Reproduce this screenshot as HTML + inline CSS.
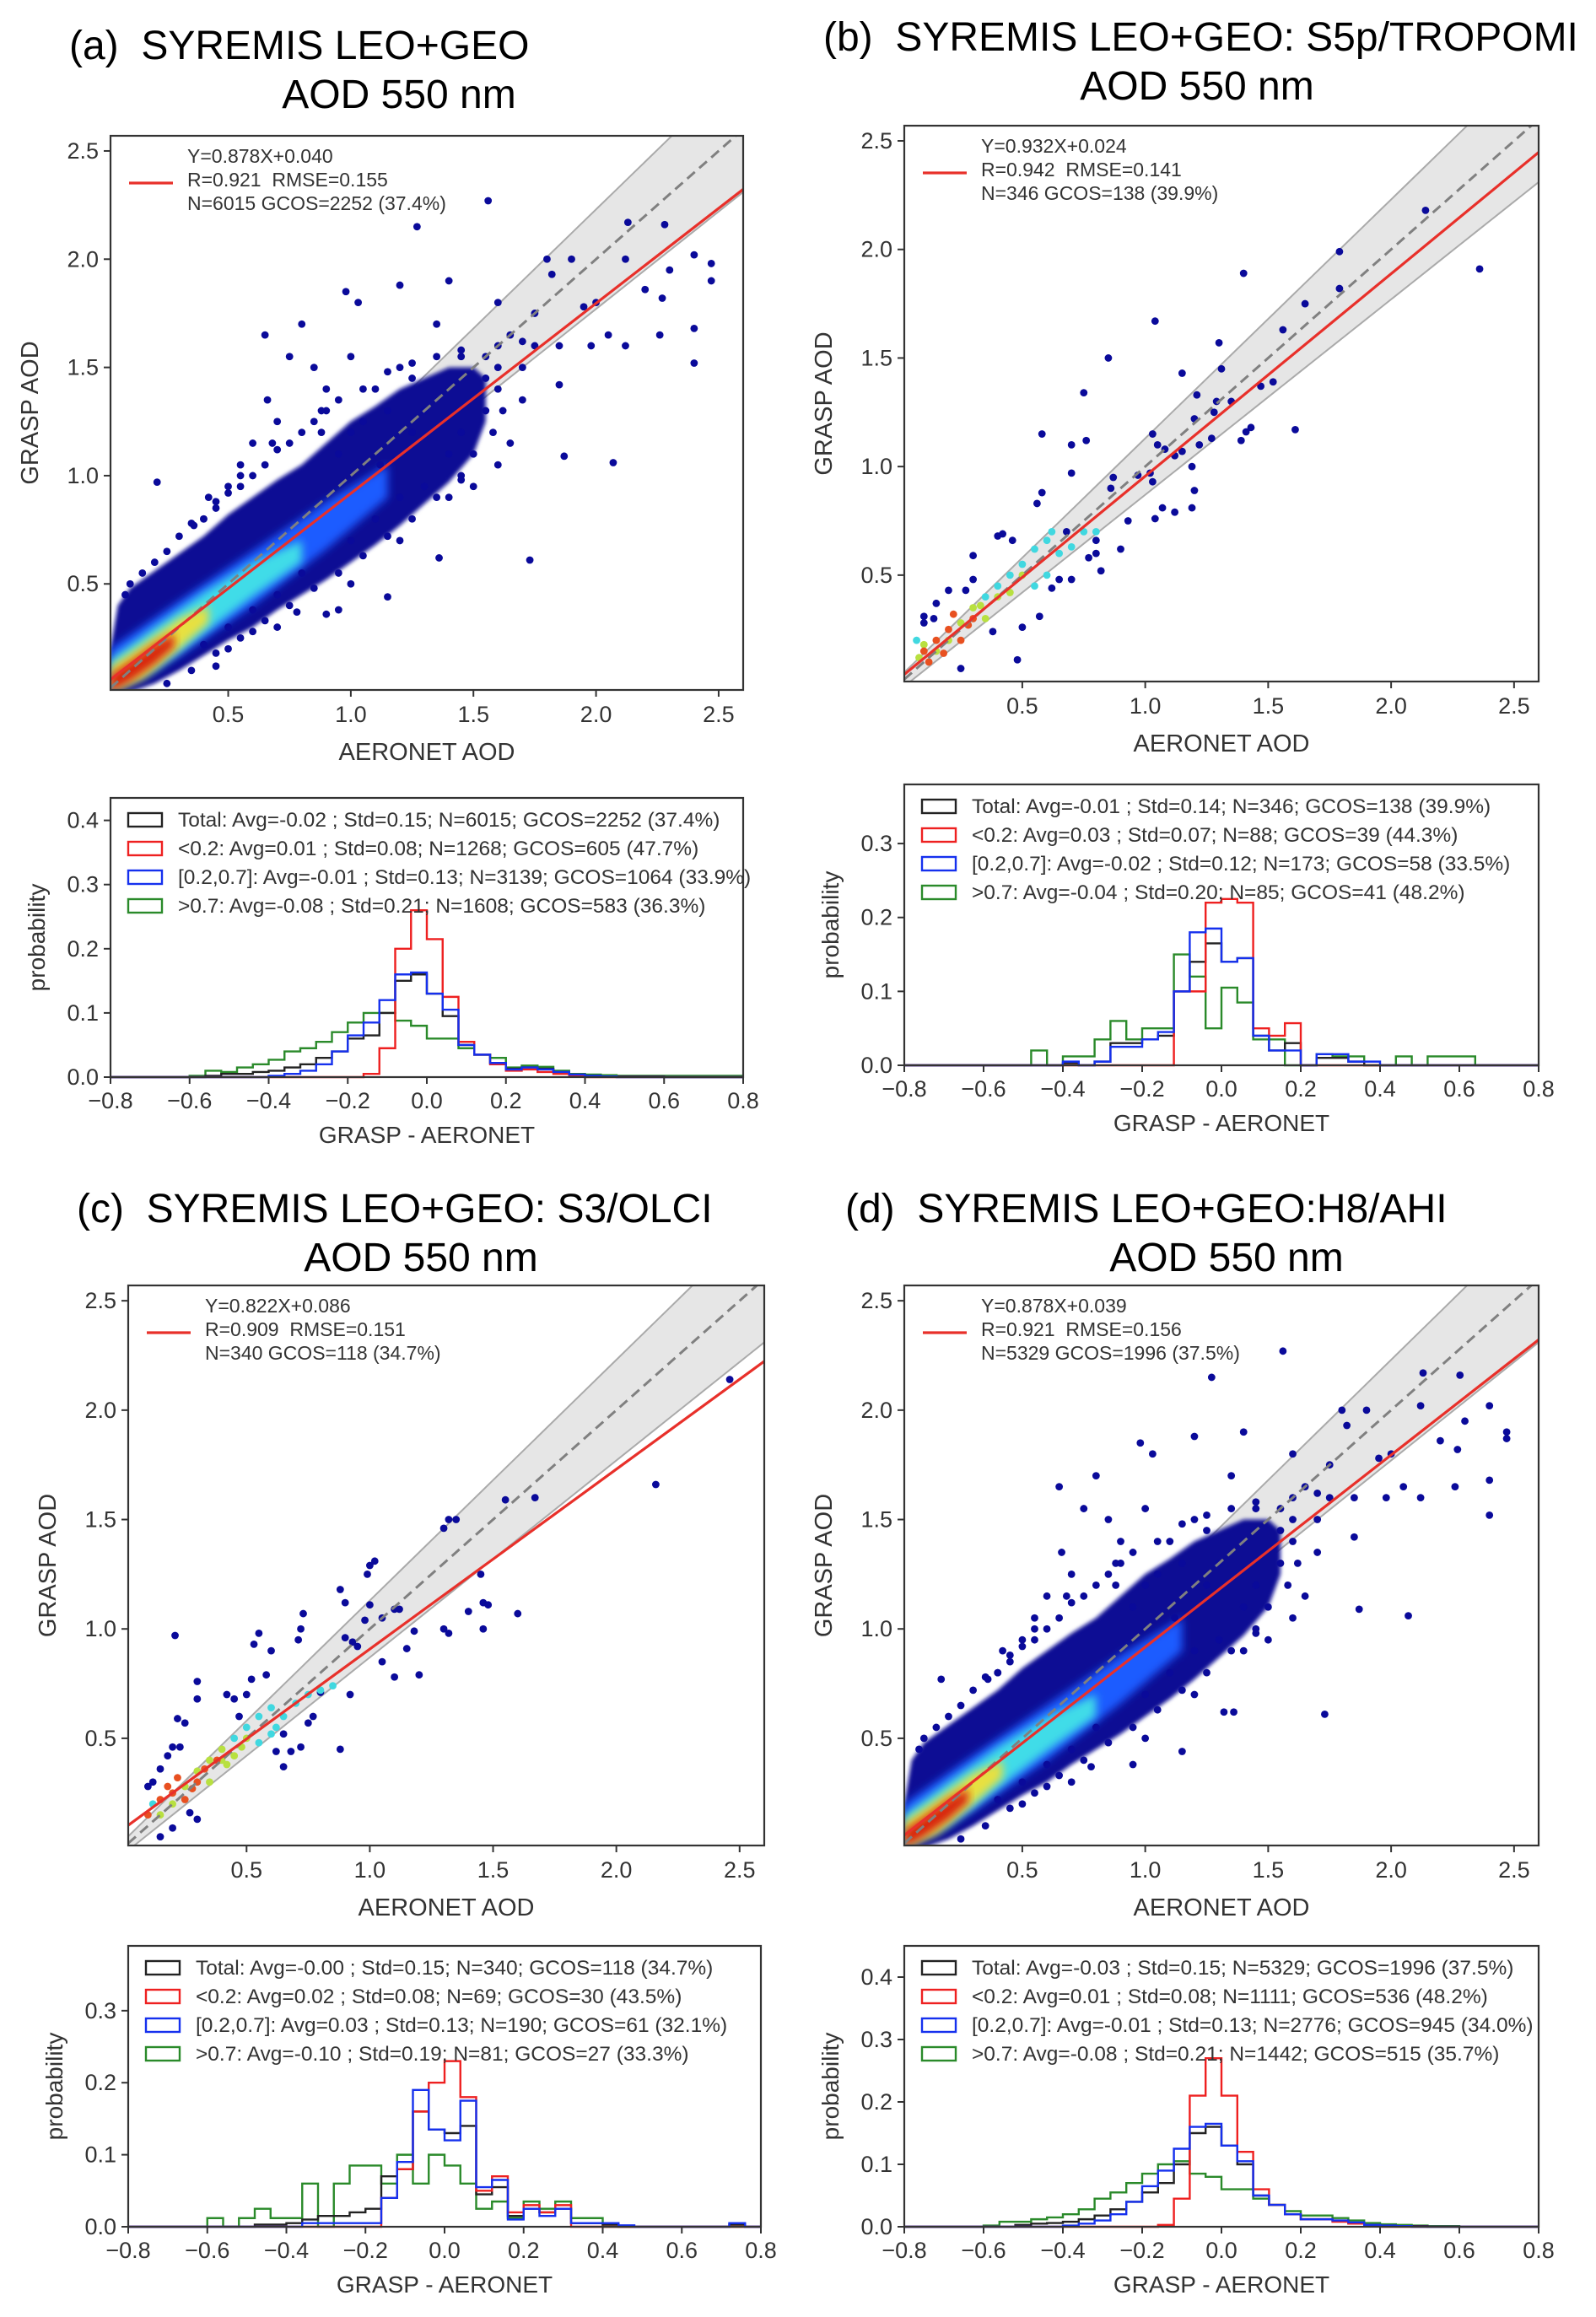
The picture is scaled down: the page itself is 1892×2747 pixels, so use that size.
<!DOCTYPE html>
<html><head><meta charset="utf-8"><style>
html,body{margin:0;padding:0;background:#fff;}
svg{display:block;font-family:"Liberation Sans",sans-serif;}
</style></head><body>
<svg id="fig" width="1892" height="2747" viewBox="0 0 1892 2747" xmlns="http://www.w3.org/2000/svg">
<defs>
<filter id="blur" x="-10%" y="-10%" width="120%" height="120%"><feGaussianBlur stdDeviation="5"/></filter>
<filter id="blur2" x="-10%" y="-10%" width="120%" height="120%"><feGaussianBlur stdDeviation="2.5"/></filter>
</defs>
<g id="root"></g>
</svg>
<script>
// ---------- shared ----------
const scatterXTicks=[0.5,1.0,1.5,2.0,2.5];
const scatterYTicks=[0.5,1.0,1.5,2.0,2.5];
const histXTicks=[-0.8,-0.6,-0.4,-0.2,0.0,0.2,0.4,0.6,0.8];
const binStart=-0.8, binWidth=0.04;
// density layers (x, lo, hi) for dense panels a & d
const densX1=[0.02,0.05,0.1,0.2,0.3,0.4,0.5,0.6,0.7,0.8,0.9,1.0,1.1,1.2,1.3,1.4,1.5,1.55];
const densLo1=[0,0,0,0.04,0.1,0.17,0.24,0.3,0.38,0.45,0.52,0.6,0.68,0.77,0.87,0.97,1.1,1.25];
const densHi1=[0.2,0.4,0.48,0.56,0.64,0.72,0.82,0.9,0.98,1.05,1.15,1.25,1.32,1.4,1.45,1.5,1.5,1.45];
const densX2=[0.02,0.3,0.6,0.9,1.15];
const densLo2=[0,0.17,0.4,0.66,0.9];
const densHi2=[0.2,0.42,0.65,0.88,1.05];
const densX3=[0.02,0.2,0.4,0.6,0.8];
const densLo3=[0,0.1,0.27,0.44,0.6];
const densHi3=[0.15,0.3,0.46,0.6,0.7];
const densX4=[0.02,0.15,0.3,0.42];
const densLo4=[0,0.06,0.2,0.32];
const densHi4=[0.12,0.22,0.34,0.4];
const densX5=[0.02,0.1,0.2,0.28];
const densLo5=[0,0.05,0.13,0.21];
const densHi5=[0.08,0.14,0.22,0.27];
const densColors=['#0d0d94','#1a5cff','#3fdce8','#e8e040','#d82410'];
// fringe points around dense clouds
const fringeX=[0.3,0.35,0.4,0.45,0.5,0.55,0.6,0.65,0.7,0.75,0.8,0.85,0.9,0.95,1.05,1.15,1.25,1.35,1.45,1.55,1.6,1.62,1.58,1.5,1.45,1.35,1.25,1.15,1.05,0.95,0.85,0.75,0.65,0.55,0.45,0.35,0.25,0.1,0.15,0.2,0.25,0.08,0.5,0.6,1.0,1.2,1.4,0.7,1.6,1.7,1.75,0.42,0.55,0.68,0.88];
const fringeY=[0.72,0.78,0.8,0.85,0.92,0.95,1.0,1.05,1.12,1.15,1.2,1.25,1.3,1.35,1.4,1.48,1.52,1.55,1.58,1.55,1.4,1.3,1.2,1.1,0.98,0.9,0.8,0.72,0.63,0.55,0.48,0.4,0.33,0.25,0.18,0.1,0.04,0.5,0.55,0.6,0.65,0.45,0.2,0.28,0.5,0.7,0.9,0.3,1.5,1.35,1.6,0.9,1.0,1.15,1.3];

// ---------- panel a ----------
const ptsAx=[2.47,2.47,2.4,2.4,2.4,2.3,2.28,2.27,2.26,2.13,2.12,2.12,2.05,2.07,1.87,1.73,1.36,1.27,1.56,1.4,1.2,0.98,1.03,0.8,0.65,0.36,0.21,1.15,0.9,0.95,0.78,1.8,1.82,1.9,1.95,1.85,1.85,1.6,2.2,2.0,1.98,1.75,1.7,1.65,1.6,1.55,1.45,1.5,1.45,1.3,1.25,1.1,1.0,0.9,0.85,0.75,0.7,0.6,0.55,0.5,0.45,0.4,1.0,1.1,1.2,0.8,0.7,0.6,0.5,0.4,0.45,1.3,1.4,1.55,1.6,1.65,1.7,1.0,1.05,1.15,1.2,0.95,1.35,1.45,1.25,1.12,0.88,0.66];
const ptsAy=[1.98,1.9,2.02,1.68,1.52,1.95,2.16,1.82,1.65,2.17,2.0,1.6,1.65,1.06,1.09,0.61,0.62,2.15,2.27,1.9,1.88,1.85,1.8,1.7,1.65,0.77,0.97,0.44,0.36,0.38,0.37,2.0,1.93,2.0,1.78,1.6,1.42,1.8,1.86,1.8,1.6,1.75,1.5,1.15,1.05,1.3,1.2,0.95,1.0,1.3,1.45,1.4,1.55,1.4,1.5,1.55,1.25,1.15,1.05,0.95,0.88,0.8,0.7,0.8,0.9,0.55,0.45,0.38,0.3,0.22,0.12,0.95,1.1,1.45,1.6,1.65,1.62,1.2,1.25,1.3,1.5,1.1,1.7,1.55,1.2,1.05,1.2,1.35];
const fitA=[0.878,0.040];
const legA=['Y=0.878X+0.040','R=0.921  RMSE=0.155','N=6015 GCOS=2252 (37.4%)'];
const hLegA=['Total: Avg=-0.02 ; Std=0.15; N=6015; GCOS=2252 (37.4%)','<0.2: Avg=0.01 ; Std=0.08; N=1268; GCOS=605 (47.7%)','[0.2,0.7]: Avg=-0.01 ; Std=0.13; N=3139; GCOS=1064 (33.9%)','>0.7: Avg=-0.08 ; Std=0.21; N=1608; GCOS=583 (36.3%)'];
const histAblack=[0,0,0,0,0,0,0.002,0.005,0.005,0.008,0.01,0.015,0.02,0.03,0.04,0.06,0.065,0.1,0.15,0.16,0.13,0.095,0.05,0.035,0.022,0.013,0.015,0.013,0.008,0.004,0.002,0.001,0.001,0.001,0.001,0,0,0,0,0];
const histAred=[0,0,0,0,0,0,0,0,0,0,0,0,0,0,0,0,0.005,0.045,0.2,0.26,0.215,0.125,0.055,0.035,0.02,0.01,0.012,0.008,0.005,0.002,0,0,0,0,0,0,0,0,0,0];
const histAblue=[0,0,0,0,0,0,0,0,0,0,0.002,0.005,0.01,0.02,0.04,0.065,0.085,0.12,0.16,0.163,0.13,0.105,0.05,0.035,0.022,0.012,0.015,0.012,0.008,0.004,0.002,0.001,0,0,0,0,0,0,0,0];
const histAgreen=[0,0,0,0,0,0.002,0.01,0.008,0.015,0.02,0.027,0.04,0.045,0.055,0.07,0.085,0.1,0.1,0.088,0.08,0.06,0.06,0.045,0.035,0.03,0.015,0.018,0.016,0.01,0.005,0.004,0.003,0.002,0.002,0.002,0.002,0.002,0.002,0.002,0.002];

// ---------- panel b ----------
const ptsBx=[2.36,2.14,1.79,1.79,1.65,1.56,1.61,1.52,1.47,1.4,1.41,1.43,1.39,1.35,1.3,1.31,1.29,1.28,1.27,1.22,1.21,1.2,1.19,1.2,1.19,1.15,1.15,1.12,1.12,1.08,1.07,1.05,1.04,1.03,1.03,1.02,1.04,0.97,0.93,0.9,0.87,0.86,0.85,0.82,0.8,0.8,0.77,0.75,0.76,0.7,0.7,0.7,0.68,0.65,0.62,0.58,0.58,0.57,0.56,0.5,0.48,0.46,0.42,0.4,0.38,0.3,0.3,0.27,0.25,0.2,0.15,0.1,0.1,0.14];
const ptsBy=[1.91,2.18,1.99,1.82,1.75,1.63,1.17,1.39,1.37,1.89,1.16,1.18,1.12,1.3,1.57,1.45,1.3,1.25,1.13,1.1,1.33,1.22,1.0,0.89,0.81,1.43,1.07,1.05,0.79,1.08,0.81,1.1,1.67,1.15,0.93,0.97,0.76,0.96,0.75,0.62,0.95,0.9,1.5,0.52,0.66,0.6,0.58,1.34,1.12,1.1,0.97,0.48,0.7,0.48,0.44,1.15,0.88,0.31,0.83,0.26,0.11,0.66,0.69,0.68,0.24,0.59,0.48,0.43,0.07,0.43,0.37,0.31,0.28,0.3];
const colBx=[0.55,0.6,0.62,0.65,0.7,0.75,0.8,0.5,0.45,0.6,0.55,0.35,0.4,0.3,0.35,0.4,0.45,0.25,0.2,0.5,0.15,0.1,0.08,0.1,0.15,0.2,0.25,0.3,0.22,0.12,0.18,0.28,0.07,0.33];
const colBy=[0.62,0.66,0.7,0.6,0.63,0.7,0.7,0.55,0.5,0.5,0.45,0.4,0.45,0.35,0.3,0.4,0.42,0.28,0.2,0.5,0.15,0.18,0.12,0.15,0.2,0.25,0.2,0.3,0.32,0.1,0.14,0.27,0.2,0.36];
const colBc=[2,2,2,2,2,2,2,2,2,2,2,2,2,3,3,3,3,3,3,3,3,3,3,4,4,4,4,4,4,4,4,4,2,3];
const fitB=[0.932,0.024];
const legB=['Y=0.932X+0.024','R=0.942  RMSE=0.141','N=346 GCOS=138 (39.9%)'];
const hLegB=['Total: Avg=-0.01 ; Std=0.14; N=346; GCOS=138 (39.9%)','<0.2: Avg=0.03 ; Std=0.07; N=88; GCOS=39 (44.3%)','[0.2,0.7]: Avg=-0.02 ; Std=0.12; N=173; GCOS=58 (33.5%)','>0.7: Avg=-0.04 ; Std=0.20; N=85; GCOS=41 (48.2%)'];
const histBblack=[0,0,0,0,0,0,0,0,0,0,0.003,0,0.005,0.03,0.03,0.035,0.04,0.1,0.14,0.165,0.14,0.145,0.04,0.02,0.03,0,0.01,0.01,0.005,0,0,0,0,0,0,0,0,0,0,0];
const histBred=[0,0,0,0,0,0,0,0,0,0,0,0,0,0,0,0,0,0.1,0.1,0.22,0.225,0.22,0.05,0.04,0.057,0,0,0,0,0,0,0,0,0,0,0,0,0,0,0];
const histBblue=[0,0,0,0,0,0,0,0,0,0,0.005,0,0.005,0.025,0.025,0.035,0.045,0.1,0.18,0.185,0.14,0.145,0.04,0.02,0.02,0,0.015,0.015,0.005,0.005,0,0,0,0,0,0,0,0,0,0];
const histBgreen=[0,0,0,0,0,0,0,0,0.02,0,0.012,0.012,0.035,0.06,0.035,0.05,0.05,0.15,0.12,0.05,0.105,0.085,0.035,0.035,0,0,0.015,0.012,0.012,0,0,0.012,0,0.012,0.012,0.012,0,0,0,0];

// ---------- panel c ----------
const ptsCx=[2.46,2.16,1.67,1.55,1.32,1.35,1.3,1.3,1.32,1.45,1.4,1.46,1.48,1.46,1.6,1.2,1.18,1.15,1.12,1.1,1.1,1.05,1.05,1.02,1.0,1.0,0.99,0.98,0.95,0.9,0.88,0.9,0.93,0.92,0.88,0.8,0.77,0.75,0.73,0.72,0.71,0.72,0.68,0.65,0.6,0.58,0.55,0.53,0.52,0.5,0.47,0.45,0.42,0.3,0.3,0.25,0.22,0.21,0.2,0.23,0.18,0.15,0.12,0.1,0.3,0.27,0.2,0.15,0.62,0.65];
const ptsCy=[2.14,1.66,1.6,1.59,1.5,1.5,1.46,1.0,0.98,1.25,1.08,1.12,1.11,1.0,1.07,0.79,0.99,0.91,1.09,1.09,0.78,1.05,0.85,1.31,1.29,1.11,1.25,1.04,0.92,1.12,1.18,0.96,0.94,0.7,0.45,0.71,0.6,0.57,1.07,1.0,0.95,0.46,0.44,0.37,0.9,0.79,0.98,0.93,0.77,0.7,0.6,0.68,0.7,0.76,0.68,0.57,0.59,0.97,0.46,0.46,0.42,0.36,0.3,0.28,0.13,0.16,0.09,0.05,0.44,0.52];
const colCx=[0.55,0.6,0.62,0.65,0.7,0.75,0.8,0.85,0.5,0.45,0.6,0.55,0.35,0.4,0.3,0.35,0.4,0.45,0.25,0.2,0.5,0.15,0.12,0.1,0.15,0.2,0.25,0.3,0.22,0.18,0.28,0.33,0.38,0.42,0.48];
const colCy=[0.6,0.64,0.55,0.6,0.66,0.7,0.72,0.74,0.55,0.5,0.52,0.48,0.4,0.45,0.35,0.3,0.4,0.42,0.28,0.2,0.5,0.15,0.2,0.15,0.22,0.25,0.22,0.3,0.32,0.28,0.27,0.36,0.4,0.38,0.46];
const colCc=[2,2,2,2,2,2,2,2,2,2,2,2,3,3,3,3,3,3,3,3,3,3,2,4,4,4,4,4,4,4,4,4,4,3,3];
const fitC=[0.822,0.086];
const legC=['Y=0.822X+0.086','R=0.909  RMSE=0.151','N=340 GCOS=118 (34.7%)'];
const hLegC=['Total: Avg=-0.00 ; Std=0.15; N=340; GCOS=118 (34.7%)','<0.2: Avg=0.02 ; Std=0.08; N=69; GCOS=30 (43.5%)','[0.2,0.7]: Avg=0.03 ; Std=0.13; N=190; GCOS=61 (32.1%)','>0.7: Avg=-0.10 ; Std=0.19; N=81; GCOS=27 (33.3%)'];
const histCblack=[0,0,0,0,0,0,0,0,0.003,0.003,0.005,0.01,0.015,0.015,0.02,0.025,0.07,0.08,0.16,0.135,0.13,0.14,0.045,0.055,0.015,0.025,0.02,0.025,0.005,0.005,0.003,0,0,0,0,0,0,0,0.003,0];
const histCred=[0,0,0,0,0,0,0,0,0,0,0,0,0,0,0,0,0.04,0.08,0.16,0.2,0.23,0.18,0.05,0.07,0.02,0.03,0.02,0.03,0,0,0,0,0,0,0,0,0,0,0,0];
const histCblue=[0,0,0,0,0,0,0,0,0,0,0,0.005,0.005,0.005,0.005,0.005,0.04,0.09,0.19,0.135,0.12,0.175,0.055,0.065,0.01,0.025,0.015,0.025,0.005,0.005,0.005,0.002,0,0,0,0,0,0,0.005,0];
const histCgreen=[0,0,0,0,0,0.012,0,0.012,0.025,0.012,0.012,0.06,0,0.06,0.085,0.085,0.06,0.1,0.06,0.1,0.085,0.06,0.025,0.035,0.012,0.035,0.025,0.035,0.012,0.012,0,0,0,0,0,0,0,0,0,0];

// ---------- panel d ----------
const ptsDx=[2.47,2.47,2.4,2.4,2.4,2.3,2.28,2.27,2.26,2.13,2.12,2.12,2.05,2.07,1.87,1.73,1.36,1.32,1.27,1.56,1.4,1.2,0.98,1.03,0.8,0.65,0.36,0.17,1.15,0.95,0.78,1.8,1.82,1.9,1.95,1.85,1.85,1.6,2.2,2.0,1.98,1.75,1.7,1.65,1.6,1.55,1.45,1.5,1.45,1.3,1.25,1.1,1.0,0.9,0.85,0.75,0.7,0.6,0.55,0.5,0.45,0.4,1.0,1.1,1.2,0.8,0.7,0.6,0.5,0.4,1.3,1.4,1.55,1.6,1.65,1.7,1.0,1.05,1.15,1.2,0.95,1.35,1.45,1.25,1.12,0.88,0.66];
const ptsDy=[1.9,1.87,2.02,1.68,1.52,1.95,2.16,1.82,1.65,2.17,2.02,1.6,1.65,1.06,1.09,0.61,0.62,0.62,2.15,2.27,1.9,1.88,1.85,1.8,1.7,1.65,0.77,0.77,0.44,0.38,0.37,2.0,1.93,2.0,1.78,1.6,1.42,1.8,1.86,1.8,1.6,1.75,1.5,1.15,1.05,1.3,1.2,0.95,1.0,1.3,1.45,1.4,1.55,1.4,1.5,1.55,1.25,1.15,1.05,0.95,0.88,0.8,0.7,0.8,0.9,0.55,0.45,0.38,0.3,0.22,0.95,1.1,1.45,1.6,1.65,1.62,1.2,1.25,1.3,1.5,1.1,1.7,1.55,1.2,1.05,1.2,1.35];
const fitD=[0.878,0.039];
const legD=['Y=0.878X+0.039','R=0.921  RMSE=0.156','N=5329 GCOS=1996 (37.5%)'];
const hLegD=['Total: Avg=-0.03 ; Std=0.15; N=5329; GCOS=1996 (37.5%)','<0.2: Avg=0.01 ; Std=0.08; N=1111; GCOS=536 (48.2%)','[0.2,0.7]: Avg=-0.01 ; Std=0.13; N=2776; GCOS=945 (34.0%)','>0.7: Avg=-0.08 ; Std=0.21; N=1442; GCOS=515 (35.7%)'];
const histDblack=[0,0,0,0,0,0,0,0.003,0.005,0.006,0.008,0.012,0.018,0.028,0.04,0.055,0.07,0.1,0.15,0.16,0.13,0.1,0.05,0.035,0.02,0.012,0.012,0.01,0.006,0.003,0.002,0.001,0.001,0,0,0,0,0,0,0];
const histDred=[0,0,0,0,0,0,0,0,0,0,0,0,0,0,0,0,0.003,0.045,0.21,0.27,0.21,0.12,0.06,0.035,0.02,0.012,0.012,0.008,0.005,0.002,0,0,0,0,0,0,0,0,0,0];
const histDblue=[0,0,0,0,0,0,0,0,0,0,0.002,0.005,0.01,0.02,0.04,0.065,0.09,0.125,0.16,0.165,0.13,0.105,0.05,0.035,0.02,0.012,0.012,0.01,0.007,0.003,0.002,0.001,0,0,0,0,0,0,0,0];
const histDgreen=[0,0,0,0,0,0.002,0.008,0.008,0.012,0.015,0.02,0.028,0.045,0.055,0.07,0.085,0.1,0.105,0.085,0.08,0.06,0.06,0.045,0.035,0.025,0.018,0.018,0.014,0.01,0.006,0.004,0.003,0.002,0.001,0.001,0,0,0,0,0];

// ---------- drawing ----------
const NS='http://www.w3.org/2000/svg';
const root=document.getElementById('root');
function mk(tag,attrs,parent){const e=document.createElementNS(NS,tag);for(const k in attrs)e.setAttribute(k,attrs[k]);(parent||root).appendChild(e);return e;}
function txt(s,attrs,parent){const e=mk('text',attrs,parent);e.textContent=s;return e;}

function title(l1,x1,y1,l2,x2,y2,id){
  const g=mk('g',{});
  
  
  const t1=txt(l1,{x:x1,y:y1,'font-size':48,fill:'#000'},g);
  t1.setAttribute('xml:space','preserve');t1.style.whiteSpace='pre';
  txt(l2,{x:x2,y:y2,'font-size':48,fill:'#000','text-anchor':'middle'},g);
}

function scatter(id,L,R,T,B,cfg){
  const X0=0.02,X1=2.6,Y0=0.01,Y1=2.57;
  const sx=v=>L+(v-X0)/(X1-X0)*(R-L), sy=v=>B-(v-Y0)/(Y1-Y0)*(B-T);
  const g=mk('g',{});
  
  
  const cp=mk('clipPath',{id:'clip'+id},g);mk('rect',{x:L,y:T,width:R-L,height:B-T},cp);
  const pg=mk('g',{'clip-path':'url(#clip'+id+')'},g);
  const xs=[];for(let i=0;i<=40;i++)xs.push(X0+(X1-X0)*i/40);
  let up=xs.map(x=>sx(x)+','+sy(x+0.03+0.1*x)).join(' ');
  let lo=xs.slice().reverse().map(x=>sx(x)+','+sy(x-0.03-0.1*x)).join(' ');
  const env=mk('polygon',{points:up+' '+lo,fill:'#e6e6e6',stroke:'none'},pg);
  
  
  mk('polyline',{points:up,fill:'none',stroke:'#aaa','stroke-width':2},pg);
  mk('polyline',{points:xs.map(x=>sx(x)+','+sy(x-0.03-0.1*x)).join(' '),fill:'none',stroke:'#aaa','stroke-width':2},pg);
  const allX=cfg.px.slice(), allY=cfg.py.slice();
  if(cfg.dens){
    cfg.dens.forEach((d,k)=>{
      const p=d[0].map((x,i)=>sx(x)+','+sy(d[2][i])).concat(d[0].map((x,i)=>sx(x)+','+sy(d[1][i])).reverse()).join(' ');
      const poly=mk('polygon',{points:p,fill:densColors[k],filter:k>0?'url(#blur)':'url(#blur2)'},pg);
      
      
    });
    fringeX.forEach((x,i)=>{allX.push(x);allY.push(fringeY[i]);});
  }
  allX.forEach((x,i)=>{
    const c=mk('circle',{cx:sx(x),cy:sy(allY[i]),r:4.4,fill:'#0a0a9a'},pg);
    
    
  });
  if(cfg.cx){
    const cc=['#0a0a9a','#1a5cff','#40d8e0','#b8e040','#e85020'];
    cfg.cx.forEach((x,i)=>{
      const c=mk('circle',{cx:sx(x),cy:sy(cfg.cy[i]),r:4.4,fill:cc[cfg.cc[i]]},pg);
      
      
    });
  }
  const one=mk('line',{x1:sx(X0),y1:sy(X0),x2:sx(X1),y2:sy(X1),stroke:'#808080','stroke-width':3,'stroke-dasharray':'12,7'},pg);
  
  
  const fl=mk('line',{x1:sx(X0),y1:sy(cfg.fit[0]*X0+cfg.fit[1]),x2:sx(X1),y2:sy(cfg.fit[0]*X1+cfg.fit[1]),stroke:'#e8302a','stroke-width':3.2},pg);
  
  
  mk('rect',{x:L,y:T,width:R-L,height:B-T,fill:'none',stroke:'#333','stroke-width':2.2},g);
  scatterXTicks.forEach(v=>{mk('line',{x1:sx(v),x2:sx(v),y1:B,y2:B+8,stroke:'#333','stroke-width':2},g);
    const t=txt(v.toFixed(1),{x:sx(v),y:B+38,'font-size':27,fill:'#333','text-anchor':'middle'},g);
    });
  scatterYTicks.forEach(v=>{mk('line',{x1:L-8,x2:L,y1:sy(v),y2:sy(v),stroke:'#333','stroke-width':2},g);
    const t=txt(v.toFixed(1),{x:L-14,y:sy(v)+9,'font-size':27,fill:'#333','text-anchor':'end'},g);
    });
  const xl=txt('AERONET AOD',{x:(L+R)/2,y:B+83,'font-size':29,fill:'#333','text-anchor':'middle'},g);
  
  const yl=txt('GRASP AOD',{x:0,y:0,'font-size':29,fill:'#333','text-anchor':'middle',transform:`translate(${L-86},${(T+B)/2}) rotate(-90)`},g);
  
  const lg=mk('g',{},g);
  
  mk('line',{x1:L+22,x2:L+74,y1:T+56,y2:T+56,stroke:'#e8302a','stroke-width':3.2},lg);
  cfg.leg.forEach((s,i)=>{const t=txt(s,{x:L+91,y:T+32+i*28,'font-size':23,fill:'#333'},lg);t.style.whiteSpace='pre';});
}

function hist(id,L,R,T,B,ymax,yt,series,leg){
  const sx=v=>L+(v+0.8)/1.6*(R-L), sy=v=>B-v/ymax*(B-T);
  const g=mk('g',{});
  
  
  const cols=['#222','#ee2020','#1530ee','#2a8a2a'];
  const order=[3,0,1,2];
  order.forEach(k=>{
    const d=series[k];let pts=[];
    d.forEach((v,i)=>{const x0=binStart+i*binWidth;pts.push(sx(x0)+','+sy(v));pts.push(sx(x0+binWidth)+','+sy(v));});
    const pl=mk('polyline',{points:pts.join(' '),fill:'none',stroke:cols[k],'stroke-width':2.4},g);
    
    
  });
  mk('rect',{x:L,y:T,width:R-L,height:B-T,fill:'none',stroke:'#333','stroke-width':2.2},g);
  histXTicks.forEach(v=>{mk('line',{x1:sx(v),x2:sx(v),y1:B,y2:B+8,stroke:'#333','stroke-width':2},g);
    const t=txt((v<0?'\u2212':'')+Math.abs(v).toFixed(1),{x:sx(v),y:B+37,'font-size':27,fill:'#333','text-anchor':'middle'},g);
    });
  yt.forEach(v=>{mk('line',{x1:L-8,x2:L,y1:sy(v),y2:sy(v),stroke:'#333','stroke-width':2},g);
    const t=txt(v.toFixed(1),{x:L-14,y:sy(v)+9,'font-size':27,fill:'#333','text-anchor':'end'},g);
    });
  const xl=txt('GRASP - AERONET',{x:(L+R)/2,y:B+78,'font-size':28,fill:'#333','text-anchor':'middle'},g);
  
  const yl=txt('probability',{x:0,y:0,'font-size':28,fill:'#333','text-anchor':'middle',transform:`translate(${L-78},${(T+B)/2}) rotate(-90)`},g);
  
  const lg=mk('g',{},g);
  
  leg.forEach((s,i)=>{const y=T+26+i*34;
    mk('rect',{x:L+21,y:y-8,width:40,height:16,fill:'none',stroke:cols[i],'stroke-width':2.4},lg);
    txt(s,{x:L+80,y:y+8,'font-size':24.5,fill:'#333'},lg);});
}

const dens=[[densX1,densLo1,densHi1],[densX2,densLo2,densHi2],[densX3,densLo3,densHi3],[densX4,densLo4,densHi4],[densX5,densLo5,densHi5]];

title('(a)  SYREMIS LEO+GEO',82,70,'AOD 550 nm',473,128,'a');
scatter('a',131,881,161,818,{px:ptsAx,py:ptsAy,fit:fitA,leg:legA,dens:dens});
hist('a',131,881,946,1277,0.435,[0.0,0.1,0.2,0.3,0.4],[histAblack,histAred,histAblue,histAgreen],hLegA);

title('(b)  SYREMIS LEO+GEO: S5p/TROPOMI',976,60,'AOD 550 nm',1419,118,'b');
scatter('b',1072,1824,149,808,{px:ptsBx,py:ptsBy,cx:colBx,cy:colBy,cc:colBc,fit:fitB,leg:legB});
hist('b',1072,1824,930,1263,0.38,[0.0,0.1,0.2,0.3],[histBblack,histBred,histBblue,histBgreen],hLegB);

title('(c)  SYREMIS LEO+GEO: S3/OLCI',91,1449,'AOD 550 nm',499,1507,'c');
scatter('c',152,906,1524,2188,{px:ptsCx,py:ptsCy,cx:colCx,cy:colCy,cc:colCc,fit:fitC,leg:legC});
hist('c',152,902,2307,2640,0.39,[0.0,0.1,0.2,0.3],[histCblack,histCred,histCblue,histCgreen],hLegC);

title('(d)  SYREMIS LEO+GEO:H8/AHI',1002,1449,'AOD 550 nm',1454,1507,'d');
scatter('d',1072,1824,1524,2188,{px:ptsDx,py:ptsDy,fit:fitD,leg:legD,dens:dens});
hist('d',1072,1824,2307,2640,0.45,[0.0,0.1,0.2,0.3,0.4],[histDblack,histDred,histDblue,histDgreen],hLegD);
</script>
</body></html>
